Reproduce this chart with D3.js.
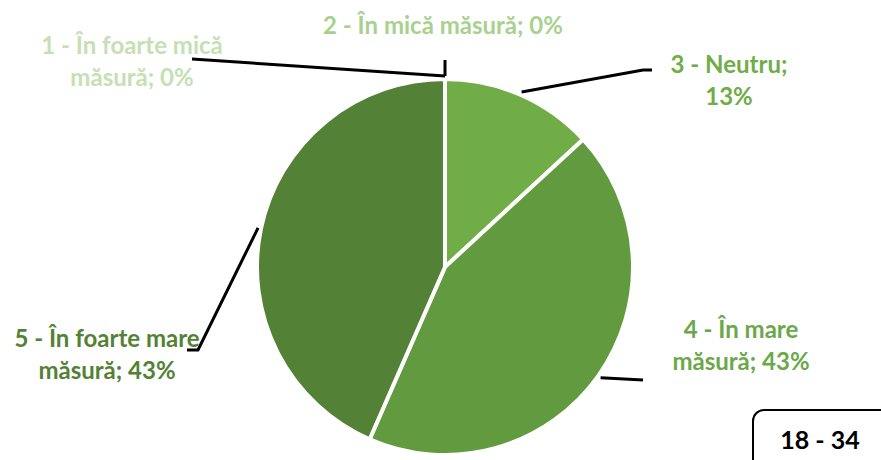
<!DOCTYPE html>
<html>
<head>
<meta charset="utf-8">
<script src="https://cdn.jsdelivr.net/npm/d3@7"></script>
<style>
  html, body { margin: 0; padding: 0; background: #ffffff; }
  svg { display: block; }
  text { font-family: Lato, "Open Sans", sans-serif; font-weight: 700; }
</style>
</head>
<body>
<svg id="chart" width="881" height="460"></svg>
<script>
// Answer categories and their shares (percent)
const categories = ["1 - În foarte mică măsură", "2 - În mică măsură", "3 - Neutru", "4 - În mare măsură", "5 - În foarte mare măsură"];
const values = [0, 0, 13, 43, 43];
const labelLines = [
  ["1 - În foarte mică", "măsură; 0%"],
  ["2 - În mică măsură; 0%"],
  ["3 - Neutru;", "13%"],
  ["4 - În mare", "măsură; 43%"],
  ["5 - În foarte mare", "măsură; 43%"]
];
const sliceColors = ["#c5e0b4", "#a9d18e", "#70ad47", "#629b3f", "#538135"];
const labelColors = ["#c5e0b4", "#a9d18e", "#70ad47", "#6aa84a", "#548235"];
const groupLabel = "18 - 34";

// Layout
const width = 881, height = 460;
const cx = 445, cy = 267, radius = 188;
const labelPos = [
  { x: 132, y: 54 },
  { x: 443, y: 34 },
  { x: 729, y: 73 },
  { x: 741, y: 338 },
  { x: 107, y: 347 }
];
// leader line route after leaving the slice edge
const leaderRoute = [
  [[192, 59]],
  [[445, 60]],
  [[643, 70], [652, 70]],
  [[643, 380]],
  [[198, 350], [187, 350]]
];
const lineHeight = 32;

const svg = d3.select("#chart");
const g = svg.append("g").attr("transform", `translate(${cx},${cy})`);

const pie = d3.pie().sort(null).value(d => d);
const arcs = pie(values);
const arc = d3.arc().innerRadius(0).outerRadius(radius);

g.selectAll("path.slice")
  .data(arcs)
  .join("path")
  .attr("class", "slice")
  .attr("d", arc)
  .attr("fill", (d, i) => sliceColors[i])
  .attr("stroke", "#ffffff")
  .attr("stroke-width", d => d.value > 0 ? 4 : 0)
  .attr("stroke-linejoin", "round");

// leader lines
const line = d3.line();
arcs.forEach((d, i) => {
  const mid = (d.startAngle + d.endAngle) / 2;
  const r0 = radius + 3;
  const start = [cx + r0 * Math.sin(mid), cy - r0 * Math.cos(mid)];
  svg.append("path")
    .attr("d", line([start, ...leaderRoute[i]]))
    .attr("fill", "none")
    .attr("stroke", "#000000")
    .attr("stroke-width", 3);
});

// data labels
labelLines.forEach((lines, i) => {
  const t = svg.append("text")
    .attr("text-anchor", "middle")
    .attr("fill", labelColors[i])
    .attr("font-size", 24);
  lines.forEach((s, j) => {
    t.append("tspan")
      .attr("x", labelPos[i].x)
      .attr("y", labelPos[i].y + j * lineHeight)
      .text(s);
  });
});

// age group tag
svg.append("rect")
  .attr("x", 753).attr("y", 410)
  .attr("width", 150).attr("height", 80)
  .attr("rx", 11)
  .attr("fill", "#ffffff")
  .attr("stroke", "#000000")
  .attr("stroke-width", 2);
svg.append("text")
  .attr("x", 820).attr("y", 449)
  .attr("text-anchor", "middle")
  .attr("fill", "#000000")
  .attr("font-size", 25)
  .text(groupLabel);
</script>
</body>
</html>
